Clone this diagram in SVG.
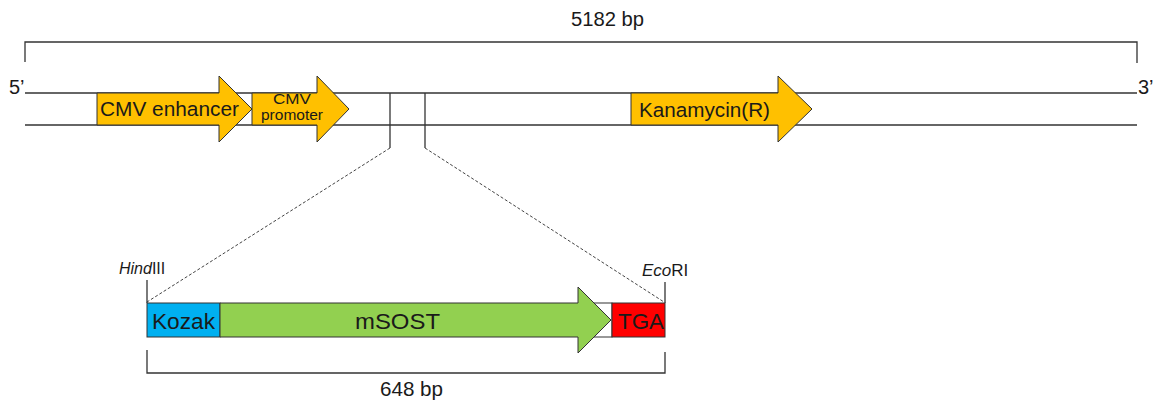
<svg xmlns="http://www.w3.org/2000/svg" width="1156" height="403" viewBox="0 0 1156 403">
<style>
.ln{stroke:#333;stroke-width:1.3;fill:none}
.dash{stroke:#444;stroke-width:1;fill:none;stroke-dasharray:3,2}
.orange{fill:#FFC000;stroke:#333;stroke-width:1}
.t{font-family:"Liberation Sans",Arial,sans-serif;fill:#1a1a1a}
</style>
<rect width="1156" height="403" fill="#fff"/>
<g id="connectors">
<path class="ln" d="M25,62 V42 H1137 V63"/>
<line class="ln" x1="25" y1="93" x2="1137" y2="93"/>
<line class="ln" x1="25" y1="125" x2="1137" y2="125"/>
<path class="ln" d="M390,93 V148"/>
<path class="ln" d="M425,93 V148"/>
<line class="dash" x1="390" y1="148" x2="147" y2="302"/>
<line class="dash" x1="425" y1="148" x2="664" y2="302"/>
<path class="ln" d="M147,280 V303"/>
<path class="ln" d="M665,282 V303"/>
<path class="ln" d="M147,350 V373 H665 V352"/>
</g>
<g id="labels">
<text class="t" x="571" y="26" font-size="20.5" textLength="73" lengthAdjust="spacingAndGlyphs">5182 bp</text>
<text class="t" x="9" y="94" font-size="20">5’</text>
<text class="t" x="1138" y="94" font-size="20">3’</text>
<text class="t" x="380" y="396" font-size="20.5" textLength="63" lengthAdjust="spacingAndGlyphs">648 bp</text>
</g>
<g id="cmv-enhancer">
<path class="orange" d="M97,93 H219 V76 L252,109 L219,142 V125 H97 Z"/>
<text class="t" x="100" y="116" font-size="20.5" textLength="139" lengthAdjust="spacingAndGlyphs">CMV enhancer</text>
</g>
<g id="cmv-promoter">
<path class="orange" d="M252,93 H317 V76 L349,109 L317,142 V125 H252 Z"/>
<text class="t" x="273" y="104" font-size="15" textLength="38" lengthAdjust="spacingAndGlyphs">CMV</text>
<text class="t" x="261" y="120" font-size="14" textLength="62" lengthAdjust="spacingAndGlyphs">promoter</text>
</g>
<g id="kanamycin">
<path class="orange" d="M631,93 H778 V76 L812,109 L778,142 V125 H631 Z"/>
<text class="t" x="639" y="117" font-size="20.5" textLength="131" lengthAdjust="spacingAndGlyphs">Kanamycin(R)</text>
</g>
<g id="hindiii">
<text class="t" x="119" y="274" font-size="16"><tspan font-style="italic">Hind</tspan>III</text>
</g>
<g id="ecori">
<text class="t" x="642" y="276" font-size="17"><tspan font-style="italic">Eco</tspan>RI</text>
</g>
<g id="spacer">
<rect x="590" y="303" width="22" height="34" fill="#fff" stroke="#333" stroke-width="1"/>
</g>
<g id="kozak">
<rect x="147" y="303" width="73" height="34" fill="#00B0F0" stroke="#333" stroke-width="1"/>
<text class="t" x="152" y="328.5" font-size="22" textLength="63" lengthAdjust="spacingAndGlyphs">Kozak</text>
</g>
<g id="msost">
<path d="M220,303 H578 V287 L611,320 L578,353 V337 H220 Z" fill="#92D050" stroke="#333" stroke-width="1"/>
<text class="t" x="355" y="328.5" font-size="22" textLength="85" lengthAdjust="spacingAndGlyphs">mSOST</text>
</g>
<g id="tga">
<rect x="612" y="303" width="53" height="34" fill="#FF0000" stroke="#333" stroke-width="1"/>
<text class="t" x="618" y="329" font-size="22" textLength="46" lengthAdjust="spacingAndGlyphs">TGA</text>
</g>
</svg>
